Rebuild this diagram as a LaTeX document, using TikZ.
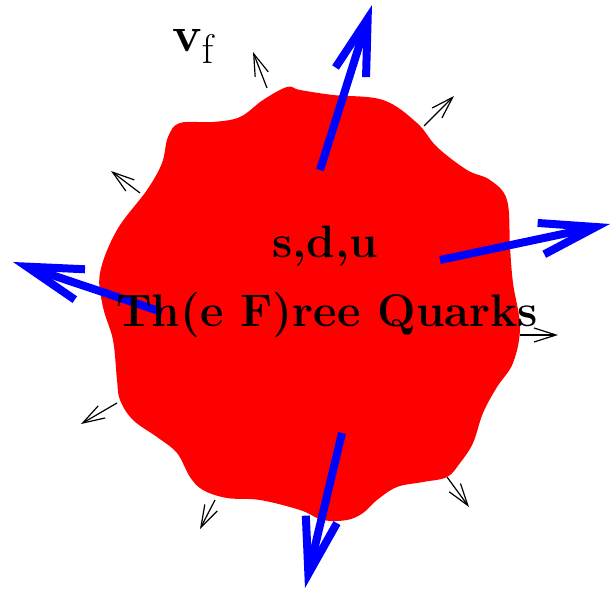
\documentclass[tikz,border=0pt]{standalone}
\usepackage{amsmath,amssymb}
\usetikzlibrary{arrows.meta}

\begin{document}
\begin{tikzpicture}[
  x=0.5pt, y=-0.5pt,
  fast/.style={blue, line width=4pt, -{Straight Barb[length=28pt, width=16pt]}},
  slow/.style={black, line width=0.6pt, -{Straight Barb[length=11pt, width=7pt]}},
  label/.style={font=\fontsize{22.8}{27}\selectfont\bfseries, anchor=base},
]
  \useasboundingbox (0,0) rectangle (611,593);

  % the fireball
  \fill[red] plot[smooth cycle, tension=0.6] coordinates {
    (168,137) (180,123) (213,122) (240,117) (263,100) (287,87) (300,90)
    (333,95) (383,100) (417,123) (437,147) (467,170) (490,180) (507,200)
    (510,247) (513,283) (520,327) (513,363) (497,387) (483,413) (473,443)
    (460,463) (447,477) (423,482) (397,487) (377,500) (363,513) (347,520)
    (323,520) (300,510) (260,500) (227,498) (203,490) (190,477) (177,453)
    (157,437) (133,420) (120,400) (117,380) (113,340) (103,307) (100,273)
    (117,230) (147,190) (162,163)};

  % fast quarks
  \coordinate (up0) at (320,170);    \coordinate (up1) at (372,5);
  \coordinate (rt0) at (440,260);    \coordinate (rt1) at (610,224);
  \coordinate (lt0) at (162,312);    \coordinate (lt1) at (13,262);
  \coordinate (dn0) at (342,433);    \coordinate (dn1) at (305,588);
  \draw[fast] (up0) -- (up1);
  \draw[fast] (rt0) -- (rt1);
  \draw[fast] (lt0) -- (lt1);
  \draw[fast] (dn0) -- (dn1);

  % slow ones on the surface
  \coordinate (a0) at (267,88);   \coordinate (a1) at (253,52);
  \coordinate (b0) at (424,126);  \coordinate (b1) at (454,96);
  \coordinate (c0) at (140,193);  \coordinate (c1) at (111,171);
  \coordinate (d0) at (520,335);  \coordinate (d1) at (558,335);
  \coordinate (e0) at (447,477);  \coordinate (e1) at (469,507);
  \coordinate (f0) at (215,500);  \coordinate (f1) at (200,529);
  \coordinate (g0) at (117,403);  \coordinate (g1) at (81,424);
  \foreach \p in {a,b,c,d,e,f,g}
    \draw[slow] (\p0) -- (\p1);

  \node[label] (flav) at (325,258) {s,d,u};
  \node[label] (name) at (327,327) {Th(e F)ree Quarks};
  \node[font=\fontsize{31}{36}\selectfont, anchor=base west, inner sep=0pt] (vf) at (172,52) {$\mathbf{v}_{\mathrm{f}}$};
\end{tikzpicture}
\end{document}
